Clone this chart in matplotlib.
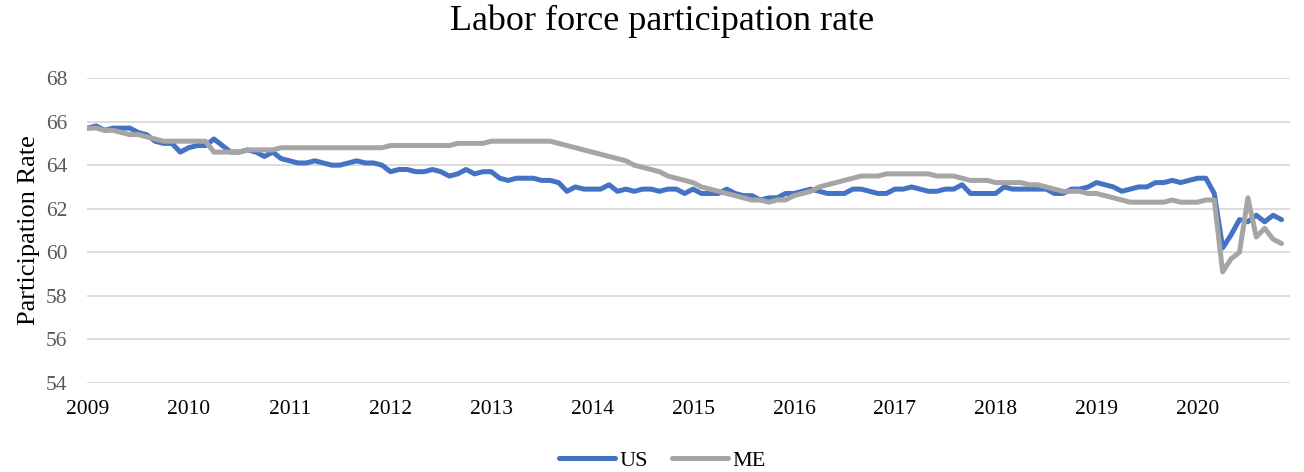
import numpy as np
import matplotlib
matplotlib.use("Agg")
import matplotlib.pyplot as plt

plt.rcParams['font.family'] = ['Liberation Serif', 'DejaVu Serif']

# Monthly values, Jan 2009 .. Nov 2020
us = [
    65.7, 65.8, 65.6, 65.7, 65.7, 65.7, 65.5, 65.4, 65.1, 65.0, 65.0, 64.6,
    64.8, 64.9, 64.9, 65.2, 64.9, 64.6, 64.6, 64.7, 64.6, 64.4, 64.6, 64.3,
    64.2, 64.1, 64.1, 64.2, 64.1, 64.0, 64.0, 64.1, 64.2, 64.1, 64.1, 64.0,
    63.7, 63.8, 63.8, 63.7, 63.7, 63.8, 63.7, 63.5, 63.6, 63.8, 63.6, 63.7,
    63.7, 63.4, 63.3, 63.4, 63.4, 63.4, 63.3, 63.3, 63.2, 62.8, 63.0, 62.9,
    62.9, 62.9, 63.1, 62.8, 62.9, 62.8, 62.9, 62.9, 62.8, 62.9, 62.9, 62.7,
    62.9, 62.7, 62.7, 62.7, 62.9, 62.7, 62.6, 62.6, 62.4, 62.5, 62.5, 62.7,
    62.7, 62.8, 62.9, 62.8, 62.7, 62.7, 62.7, 62.9, 62.9, 62.8, 62.7, 62.7,
    62.9, 62.9, 63.0, 62.9, 62.8, 62.8, 62.9, 62.9, 63.1, 62.7, 62.7, 62.7,
    62.7, 63.0, 62.9, 62.9, 62.9, 62.9, 62.9, 62.7, 62.7, 62.9, 62.9, 63.0,
    63.2, 63.1, 63.0, 62.8, 62.9, 63.0, 63.0, 63.2, 63.2, 63.3, 63.2, 63.3,
    63.4, 63.4, 62.7, 60.2, 60.8, 61.5, 61.4, 61.7, 61.4, 61.7, 61.5,
]
me = [
    65.7, 65.7, 65.6, 65.6, 65.5, 65.4, 65.4, 65.3, 65.2, 65.1, 65.1, 65.1,
    65.1, 65.1, 65.1, 64.6, 64.6, 64.6, 64.6, 64.7, 64.7, 64.7, 64.7, 64.8,
    64.8, 64.8, 64.8, 64.8, 64.8, 64.8, 64.8, 64.8, 64.8, 64.8, 64.8, 64.8,
    64.9, 64.9, 64.9, 64.9, 64.9, 64.9, 64.9, 64.9, 65.0, 65.0, 65.0, 65.0,
    65.1, 65.1, 65.1, 65.1, 65.1, 65.1, 65.1, 65.1, 65.0, 64.9, 64.8, 64.7,
    64.6, 64.5, 64.4, 64.3, 64.2, 64.0, 63.9, 63.8, 63.7, 63.5, 63.4, 63.3,
    63.2, 63.0, 62.9, 62.8, 62.7, 62.6, 62.5, 62.4, 62.4, 62.3, 62.4, 62.4,
    62.6, 62.7, 62.8, 63.0, 63.1, 63.2, 63.3, 63.4, 63.5, 63.5, 63.5, 63.6,
    63.6, 63.6, 63.6, 63.6, 63.6, 63.5, 63.5, 63.5, 63.4, 63.3, 63.3, 63.3,
    63.2, 63.2, 63.2, 63.2, 63.1, 63.1, 63.0, 62.9, 62.8, 62.8, 62.8, 62.7,
    62.7, 62.6, 62.5, 62.4, 62.3, 62.3, 62.3, 62.3, 62.3, 62.4, 62.3, 62.3,
    62.3, 62.4, 62.4, 59.1, 59.7, 60.0, 62.5, 60.7, 61.1, 60.6, 60.4,
]
years = [str(y) for y in range(2009, 2021)]

x = np.arange(len(us))

fig = plt.figure(figsize=(13.04, 4.72), dpi=100)
ax = fig.add_axes([0.0667, 0.1886, 0.9225, 0.6461])

ax.plot(x, us, color='#4472C4', lw=3.6, label='US', solid_capstyle='round', zorder=3)
ax.plot(x, me, color='#A5A5A5', lw=3.6, label='ME', solid_capstyle='round', zorder=3)

ax.set_ylim(54, 68)
ax.set_yticks(np.arange(54, 69, 2))
ax.set_xlim(-0.1, 143)
ax.set_xticks(np.arange(0, len(us), 12))
ax.set_xticklabels(years)

ax.grid(axis='y', color='#D9D9D9', lw=1.3)
ax.set_axisbelow(True)
for s in ax.spines.values():
    s.set_visible(False)
ax.tick_params(length=0, labelsize=15.5, colors='#595959')
ax.tick_params(axis='x', pad=12, labelcolor='black')
ax.tick_params(axis='y', pad=14)

ax.set_ylabel('Participation Rate', fontsize=19, labelpad=4)
fig.suptitle('Labor force participation rate', fontsize=26, x=0.508, y=0.99)

fig.legend(loc='lower center', bbox_to_anchor=(0.508, -0.04), ncol=2, frameon=False,
           fontsize=16, handlelength=2.5, handletextpad=0.2, columnspacing=1.1)

fig.savefig('out.png', dpi=100)
